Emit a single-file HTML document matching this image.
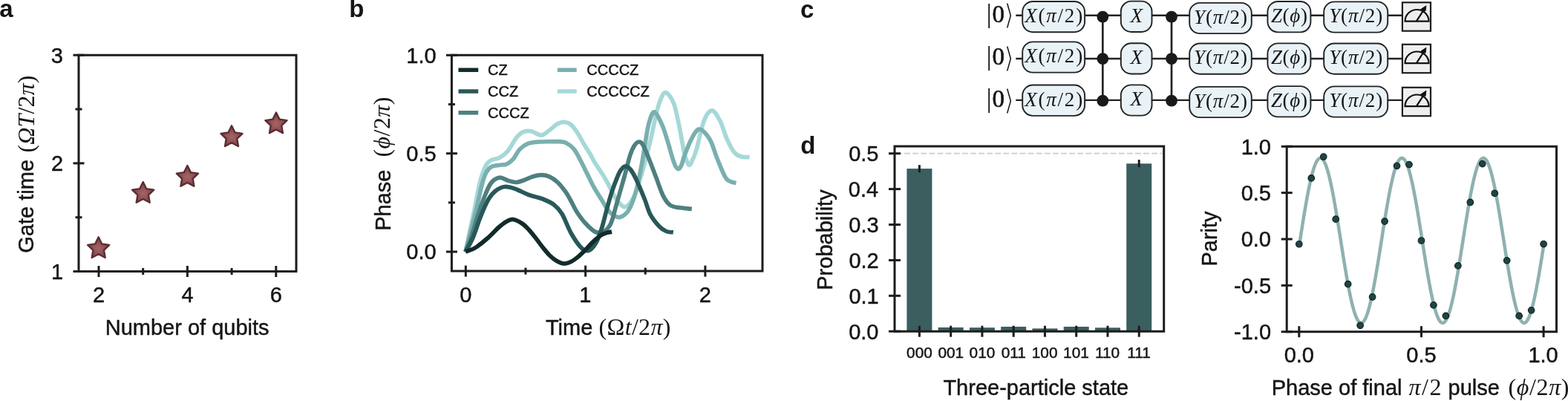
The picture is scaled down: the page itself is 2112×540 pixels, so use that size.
<!DOCTYPE html>
<html><head><meta charset="utf-8"><title>Figure</title>
<style>html,body{margin:0;padding:0;background:#fff;overflow:hidden}svg{display:block}text{fill:#151515}.s{stroke:#151515;stroke-width:0.45px}</style></head>
<body><svg width="2112" height="540" viewBox="0 0 2112 540">
<rect width="2112" height="540" fill="#fff"/>
<text x="-0.79" y="23.4" font-size="33" font-family='"Liberation Sans", Arial, Helvetica, sans-serif' font-weight="bold" >a</text>
<text x="470.36" y="23.4" font-size="33" font-family='"Liberation Sans", Arial, Helvetica, sans-serif' font-weight="bold" >b</text>
<text x="1077.88" y="24" font-size="33" font-family='"Liberation Sans", Arial, Helvetica, sans-serif' font-weight="bold" >c</text>
<text x="1078.28" y="207.2" font-size="33" font-family='"Liberation Sans", Arial, Helvetica, sans-serif' font-weight="bold" >d</text>
<path d="M106,74.2 H399 V365.5 H106 Z" fill="none" stroke="#1c1c1c" stroke-width="3" stroke-linejoin="miter"/>
<line x1="98.5" y1="365.5" x2="113.5" y2="365.5" stroke="#1c1c1c" stroke-width="3" stroke-linecap="butt" />
<text class="s" x="68.95" y="375.9" font-size="29" font-family='"Liberation Sans", Arial, Helvetica, sans-serif' font-weight="normal" >1</text>
<line x1="98.5" y1="219.85" x2="113.5" y2="219.85" stroke="#1c1c1c" stroke-width="3" stroke-linecap="butt" />
<text class="s" x="68.95" y="230.25" font-size="29" font-family='"Liberation Sans", Arial, Helvetica, sans-serif' font-weight="normal" >2</text>
<line x1="98.5" y1="74.2" x2="113.5" y2="74.2" stroke="#1c1c1c" stroke-width="3" stroke-linecap="butt" />
<text class="s" x="68.81" y="84.6" font-size="29" font-family='"Liberation Sans", Arial, Helvetica, sans-serif' font-weight="normal" >3</text>
<line x1="101.5" y1="292.68" x2="110.5" y2="292.68" stroke="#1c1c1c" stroke-width="3" stroke-linecap="butt" />
<line x1="101.5" y1="147.02" x2="110.5" y2="147.02" stroke="#1c1c1c" stroke-width="3" stroke-linecap="butt" />
<line x1="133" y1="358" x2="133" y2="373" stroke="#1c1c1c" stroke-width="3" stroke-linecap="butt" />
<text class="s" x="124.95" y="407.3" font-size="29" font-family='"Liberation Sans", Arial, Helvetica, sans-serif' font-weight="normal" >2</text>
<line x1="252.4" y1="358" x2="252.4" y2="373" stroke="#1c1c1c" stroke-width="3" stroke-linecap="butt" />
<text class="s" x="244.43" y="407.3" font-size="29" font-family='"Liberation Sans", Arial, Helvetica, sans-serif' font-weight="normal" >4</text>
<line x1="371.8" y1="358" x2="371.8" y2="373" stroke="#1c1c1c" stroke-width="3" stroke-linecap="butt" />
<text class="s" x="363.68" y="407.3" font-size="29" font-family='"Liberation Sans", Arial, Helvetica, sans-serif' font-weight="normal" >6</text>
<line x1="192.7" y1="361" x2="192.7" y2="370" stroke="#1c1c1c" stroke-width="3" stroke-linecap="butt" />
<line x1="312.1" y1="361" x2="312.1" y2="370" stroke="#1c1c1c" stroke-width="3" stroke-linecap="butt" />
<text class="s" x="141.73" y="450.6" font-size="29" font-family='"Liberation Sans", Arial, Helvetica, sans-serif' font-weight="normal" >Number of qubits</text>
<text class="s" transform="translate(45.3,340.65) rotate(-90)" x="0" y="0" font-size="29" font-family='"Liberation Sans", Arial, Helvetica, sans-serif' >Gate time</text>
<text transform="translate(45.5,205.5) rotate(-90)" x="0" y="0" font-size="32" font-family='"Liberation Serif", "DejaVu Serif", serif' text-anchor="start" textLength="104" lengthAdjust="spacing">(<tspan font-style="italic">ΩT</tspan>/2<tspan font-style="italic">π</tspan>)</text>
<defs><radialGradient id="sg" cx="0.5" cy="0.55" r="0.5"><stop offset="0" stop-color="#a66466"/><stop offset="0.6" stop-color="#8f4f54"/><stop offset="1" stop-color="#7a4146"/></radialGradient></defs>
<path d="M132.7,319.3 L137.2,328.41 L147.25,329.87 L139.98,336.96 L141.69,346.98 L132.7,342.25 L123.71,346.98 L125.42,336.96 L118.15,329.87 L128.2,328.41 Z" fill="url(#sg)" stroke="#5a2e33" stroke-width="2.4" stroke-linejoin="round"/>
<path d="M192.7,245.05 L197.2,254.16 L207.25,255.62 L199.98,262.71 L201.69,272.73 L192.7,268 L183.71,272.73 L185.42,262.71 L178.15,255.62 L188.2,254.16 Z" fill="url(#sg)" stroke="#5a2e33" stroke-width="2.4" stroke-linejoin="round"/>
<path d="M252.4,223 L256.9,232.11 L266.95,233.57 L259.68,240.66 L261.39,250.68 L252.4,245.95 L243.41,250.68 L245.12,240.66 L237.85,233.57 L247.9,232.11 Z" fill="url(#sg)" stroke="#5a2e33" stroke-width="2.4" stroke-linejoin="round"/>
<path d="M312,169.3 L316.5,178.41 L326.55,179.87 L319.28,186.96 L320.99,196.98 L312,192.25 L303.01,196.98 L304.72,186.96 L297.45,179.87 L307.5,178.41 Z" fill="url(#sg)" stroke="#5a2e33" stroke-width="2.4" stroke-linejoin="round"/>
<path d="M371.95,151.5 L376.45,160.61 L386.5,162.07 L379.23,169.16 L380.94,179.18 L371.95,174.45 L362.96,179.18 L364.67,169.16 L357.4,162.07 L367.45,160.61 Z" fill="url(#sg)" stroke="#5a2e33" stroke-width="2.4" stroke-linejoin="round"/>
<path d="M608.4,74.3 H1027 V365.1 H608.4 Z" fill="none" stroke="#1c1c1c" stroke-width="3" stroke-linejoin="miter"/>
<line x1="600.9" y1="339" x2="615.9" y2="339" stroke="#1c1c1c" stroke-width="3" stroke-linecap="butt" />
<text class="s" x="547.35" y="349.4" font-size="29" font-family='"Liberation Sans", Arial, Helvetica, sans-serif' font-weight="normal" >0.0</text>
<line x1="600.9" y1="206.65" x2="615.9" y2="206.65" stroke="#1c1c1c" stroke-width="3" stroke-linecap="butt" />
<text class="s" x="547.35" y="217.05" font-size="29" font-family='"Liberation Sans", Arial, Helvetica, sans-serif' font-weight="normal" >0.5</text>
<line x1="600.9" y1="74.3" x2="615.9" y2="74.3" stroke="#1c1c1c" stroke-width="3" stroke-linecap="butt" />
<text class="s" x="547.35" y="84.7" font-size="29" font-family='"Liberation Sans", Arial, Helvetica, sans-serif' font-weight="normal" >1.0</text>
<line x1="603.9" y1="272.82" x2="612.9" y2="272.82" stroke="#1c1c1c" stroke-width="3" stroke-linecap="butt" />
<line x1="603.9" y1="140.48" x2="612.9" y2="140.48" stroke="#1c1c1c" stroke-width="3" stroke-linecap="butt" />
<line x1="627.3" y1="357.6" x2="627.3" y2="372.6" stroke="#1c1c1c" stroke-width="3" stroke-linecap="butt" />
<text class="s" x="619.25" y="407.3" font-size="29" font-family='"Liberation Sans", Arial, Helvetica, sans-serif' font-weight="normal" >0</text>
<line x1="788.6" y1="357.6" x2="788.6" y2="372.6" stroke="#1c1c1c" stroke-width="3" stroke-linecap="butt" />
<text class="s" x="780.19" y="407.3" font-size="29" font-family='"Liberation Sans", Arial, Helvetica, sans-serif' font-weight="normal" >1</text>
<line x1="949.9" y1="357.6" x2="949.9" y2="372.6" stroke="#1c1c1c" stroke-width="3" stroke-linecap="butt" />
<text class="s" x="941.85" y="407.3" font-size="29" font-family='"Liberation Sans", Arial, Helvetica, sans-serif' font-weight="normal" >2</text>
<line x1="707.95" y1="360.6" x2="707.95" y2="369.6" stroke="#1c1c1c" stroke-width="3" stroke-linecap="butt" />
<line x1="869.25" y1="360.6" x2="869.25" y2="369.6" stroke="#1c1c1c" stroke-width="3" stroke-linecap="butt" />
<text class="s" x="734.92" y="450.5" font-size="29" font-family='"Liberation Sans", Arial, Helvetica, sans-serif' font-weight="normal" >Time</text>
<text x="806.5" y="450.5" font-size="32" font-family='"Liberation Serif", "DejaVu Serif", serif' text-anchor="start" textLength="97" lengthAdjust="spacing">(Ω<tspan font-style="italic">t</tspan>/2<tspan font-style="italic">π</tspan>)</text>
<text class="s" transform="translate(526,310.82) rotate(-90)" x="0" y="0" font-size="29" font-family='"Liberation Sans", Arial, Helvetica, sans-serif' >Phase</text>
<text transform="translate(524.5,211.5) rotate(-90)" x="0" y="0" font-size="32" font-family='"Liberation Serif", "DejaVu Serif", serif' text-anchor="start" textLength="81" lengthAdjust="spacing">(<tspan font-style="italic">ϕ</tspan>/2<tspan font-style="italic">π</tspan>)</text>
<path d="M627,339 C627.63,335.83 628.72,329.83 630.8,320 C632.88,310.17 637.42,290 639.5,280 C641.58,270 642.05,266.17 643.3,260 C644.55,253.83 645.63,248.08 647,243 C648.37,237.92 650,233.25 651.5,229.5 C653,225.75 654.25,222.83 656,220.5 C657.75,218.17 659.17,216.88 662,215.5 C664.83,214.12 669.33,214.23 673,212.2 C676.67,210.17 680.25,207.75 684,203.3 C687.75,198.85 692.1,189.75 695.5,185.5 C698.9,181.25 701.07,179.27 704.4,177.8 C707.73,176.33 711.42,175.97 715.5,176.7 C719.58,177.43 724.82,182.4 728.9,182.2 C732.98,182 736.32,178.08 740,175.5 C743.68,172.92 747.67,168.55 751,166.7 C754.33,164.85 757.02,164.22 760,164.4 C762.98,164.58 765.93,165.38 768.9,167.8 C771.87,170.22 774.83,174.47 777.8,178.9 C780.77,183.33 783.75,189.47 786.7,194.4 C789.65,199.33 793.03,204.3 795.5,208.5 C797.97,212.7 798.65,214.97 801.5,219.6 C804.35,224.23 809.62,231.52 812.6,236.3 C815.58,241.08 816.32,242.73 819.4,248.3 C822.48,253.87 827.2,264.67 831.1,269.7 C835,274.73 838.92,279.47 842.8,278.5 C846.68,277.53 851.12,270.32 854.4,263.9 C857.68,257.48 860.18,247.32 862.5,240 C864.82,232.68 865.93,228.88 868.3,220 C870.67,211.12 874.2,197.37 876.7,186.7 C879.2,176.03 881.25,164.45 883.3,156 C885.35,147.55 886.8,141.23 889,136 C891.2,130.77 893.42,124.07 896.5,124.6 C899.58,125.13 904.37,131.27 907.5,139.2 C910.63,147.13 913.03,161.52 915.3,172.2 C917.57,182.88 919.48,195.83 921.1,203.3 C922.72,210.77 923.8,213.8 925,217 C926.2,220.2 927.13,222.5 928.3,222.5 C929.47,222.5 930.38,220.47 932,217 C933.62,213.53 935.28,210.78 938,201.7 C940.72,192.62 944.8,171.3 948.3,162.5 C951.8,153.7 955.43,148.9 959,148.9 C962.57,148.9 966.3,156.02 969.7,162.5 C973.1,168.98 976.15,180.67 979.4,187.8 C982.65,194.93 985.95,201.42 989.2,205.3 C992.45,209.18 995.5,210.07 998.9,211.1 C1002.3,212.13 1007.82,211.43 1009.6,211.5" fill="none" stroke="#a6d8d8" stroke-width="5.7" stroke-linejoin="round" stroke-linecap="butt"/>
<path d="M627,339 C627.83,335.83 629.5,329.83 632,320 C634.5,310.17 639.08,292.08 642,280 C644.92,267.92 647.33,255.5 649.5,247.5 C651.67,239.5 652.92,235.85 655,232 C657.08,228.15 658.95,226.03 662,224.4 C665.05,222.77 669.93,222.75 673.3,222.2 C676.67,221.65 679.23,222.4 682.2,221.1 C685.17,219.8 688.13,217.73 691.1,214.4 C694.07,211.07 696.68,204.62 700,201.1 C703.32,197.58 706.93,194.97 711,193.3 C715.07,191.63 719.57,191.53 724.4,191.1 C729.23,190.67 735.18,190.77 740,190.7 C744.82,190.63 749.6,190.45 753.3,190.7 C757,190.95 758.87,190.47 762.2,192.2 C765.53,193.93 769.97,197.02 773.3,201.1 C776.63,205.18 779.23,211.15 782.2,216.7 C785.17,222.25 788.13,228.48 791.1,234.4 C794.07,240.32 796.73,246.33 800,252.2 C803.27,258.07 807.73,264.73 810.7,269.6 C813.67,274.47 815.37,278.13 817.8,281.4 C820.23,284.67 822.43,287.35 825.3,289.2 C828.17,291.05 831.42,293.53 835,292.5 C838.58,291.47 843.22,288.75 846.8,283 C850.38,277.25 853.6,268.17 856.5,258 C859.4,247.83 862.03,233.33 864.2,222 C866.37,210.67 867.87,199.33 869.5,190 C871.13,180.67 872.05,172.53 874,166 C875.95,159.47 878.22,150.42 881.2,150.8 C884.18,151.18 888.82,161.48 891.9,168.3 C894.98,175.12 897.42,184.42 899.7,191.7 C901.98,198.98 903.88,206.62 905.6,212 C907.32,217.38 908.6,221.42 910,224 C911.4,226.58 912.67,227.83 914,227.5 C915.33,227.17 916.58,225.25 918,222 C919.42,218.75 920.08,214.17 922.5,208 C924.92,201.83 929.17,190.67 932.5,185 C935.83,179.33 938.57,173.53 942.5,174 C946.43,174.47 952.22,181.3 956.1,187.8 C959.98,194.3 962.33,204.53 965.8,213 C969.27,221.47 973.75,233.3 976.9,238.6 C980.05,243.9 982.27,243.5 984.7,244.8 C987.13,246.1 990.37,246.13 991.5,246.4" fill="none" stroke="#7aafaf" stroke-width="5.7" stroke-linejoin="round" stroke-linecap="butt"/>
<path d="M627,339 C628.25,335.83 631.58,328.58 634.5,320 C637.42,311.42 641.17,297.5 644.5,287.5 C647.83,277.5 651.55,267 654.5,260 C657.45,253 659.07,248.97 662.2,245.5 C665.33,242.03 669.6,239.57 673.3,239.2 C677,238.83 680.7,242.25 684.4,243.3 C688.1,244.35 691.78,245.68 695.5,245.5 C699.22,245.32 702.98,243.48 706.7,242.2 C710.42,240.92 714.1,238.9 717.8,237.8 C721.5,236.7 725.2,235.6 728.9,235.6 C732.6,235.6 736.3,236.15 740,237.8 C743.7,239.45 747.4,241.98 751.1,245.5 C754.8,249.02 759.22,254.73 762.2,258.9 C765.18,263.07 766.47,265.98 769,270.5 C771.53,275.02 774.13,280.95 777.4,286 C780.67,291.05 784.47,296.38 788.6,300.8 C792.73,305.22 797.98,310.72 802.2,312.5 C806.42,314.28 810.65,313.08 813.9,311.5 C817.15,309.92 819.77,306.08 821.7,303 C823.63,299.92 823.93,298.08 825.5,293 C827.07,287.92 828.55,281.57 831.1,272.5 C833.65,263.43 837.88,249.12 840.8,238.6 C843.72,228.08 846.32,216.5 848.6,209.4 C850.88,202.3 852.52,199.07 854.5,196 C856.48,192.93 858.58,191.17 860.5,191 C862.42,190.83 863.77,191.28 866,195 C868.23,198.72 870.97,206.03 873.9,213.3 C876.83,220.57 880.37,230.17 883.6,238.6 C886.83,247.03 890.07,257.58 893.3,263.9 C896.53,270.22 899.1,273.85 903,276.5 C906.9,279.15 911.9,278.98 916.7,279.8 C921.5,280.62 929.28,281.13 931.8,281.4" fill="none" stroke="#4f7f7f" stroke-width="5.7" stroke-linejoin="round" stroke-linecap="butt"/>
<path d="M627,339 C628.67,335.83 633.67,327.75 637,320 C640.33,312.25 643.67,300.83 647,292.5 C650.33,284.17 653.67,275.83 657,270 C660.33,264.17 663.25,260.58 667,257.5 C670.75,254.42 675.17,252.08 679.5,251.5 C683.83,250.92 687.48,252.17 693,254 C698.52,255.83 706.25,260.17 712.6,262.5 C718.95,264.83 725.55,265.83 731.1,268 C736.65,270.17 741.58,272.17 745.9,275.5 C750.22,278.83 753.12,281.58 757,288 C760.88,294.42 764.9,306.42 769.2,314 C773.5,321.58 778.92,329.58 782.8,333.5 C786.68,337.42 789.27,338.42 792.5,337.5 C795.73,336.58 799.28,332.75 802.2,328 C805.12,323.25 807.4,317 810,309 C812.6,301 815.53,288.17 817.8,280 C820.07,271.83 821.7,265.93 823.6,260 C825.5,254.07 827.3,249.23 829.2,244.4 C831.1,239.57 832.9,234.4 835,231 C837.1,227.6 839.47,224.5 841.8,224 C844.13,223.5 846.57,225.23 849,228 C851.43,230.77 853.22,233.97 856.4,240.6 C859.58,247.23 864.82,259.7 868.1,267.8 C871.38,275.9 872.82,283.05 876.1,289.2 C879.38,295.35 884.23,300.98 887.8,304.7 C891.37,308.42 894.33,310.13 897.5,311.5 C900.67,312.87 905.25,312.67 906.8,312.9" fill="none" stroke="#295858" stroke-width="5.7" stroke-linejoin="round" stroke-linecap="butt"/>
<path d="M627,339 C628.17,338.58 631.5,337.58 634,336.5 C636.5,335.42 638.17,335.17 642,332.5 C645.83,329.83 652,324.92 657,320.5 C662,316.08 667.83,309.67 672,306 C676.17,302.33 678.83,300.25 682,298.5 C685.17,296.75 687.45,295.08 691,295.5 C694.55,295.92 699.8,298.75 703.3,301 C706.8,303.25 708.9,305.67 712,309 C715.1,312.33 718.73,317 721.9,321 C725.07,325 727.92,329.17 731,333 C734.08,336.83 737.23,340.92 740.4,344 C743.57,347.08 746.83,349.67 750,351.5 C753.17,353.33 756.23,354.83 759.4,355 C762.57,355.17 765.75,354.07 769,352.5 C772.25,350.93 775.73,348.18 778.9,345.6 C782.07,343.02 784.77,340.25 788,337 C791.23,333.75 794.63,329.53 798.3,326.1 C801.97,322.67 806.88,318.5 810,316.4 C813.12,314.3 814.67,314.22 817,313.5 C819.33,312.78 822.83,312.33 824,312.1" fill="none" stroke="#122b2b" stroke-width="5.7" stroke-linejoin="round" stroke-linecap="butt"/>
<line x1="617.5" y1="94.2" x2="644.2" y2="94.2" stroke="#122b2b" stroke-width="5.5" stroke-linecap="butt" />
<text class="s" x="657.1" y="101.1" font-size="20" font-family='"Liberation Sans", Arial, Helvetica, sans-serif' font-weight="normal" >CZ</text>
<line x1="617.5" y1="123" x2="644.2" y2="123" stroke="#295858" stroke-width="5.5" stroke-linecap="butt" />
<text class="s" x="657.1" y="129.9" font-size="20" font-family='"Liberation Sans", Arial, Helvetica, sans-serif' font-weight="normal" >CCZ</text>
<line x1="617.5" y1="151.8" x2="644.2" y2="151.8" stroke="#4f7f7f" stroke-width="5.5" stroke-linecap="butt" />
<text class="s" x="657.1" y="158.7" font-size="20" font-family='"Liberation Sans", Arial, Helvetica, sans-serif' font-weight="normal" >CCCZ</text>
<line x1="750.8" y1="94.2" x2="776.7" y2="94.2" stroke="#7aafaf" stroke-width="5.5" stroke-linecap="butt" />
<text class="s" x="790.3" y="101.1" font-size="20" font-family='"Liberation Sans", Arial, Helvetica, sans-serif' font-weight="normal" >CCCCZ</text>
<line x1="750.8" y1="123" x2="776.7" y2="123" stroke="#a6d8d8" stroke-width="5.5" stroke-linecap="butt" />
<text class="s" x="790.3" y="129.9" font-size="20" font-family='"Liberation Sans", Arial, Helvetica, sans-serif' font-weight="normal" >CCCCCZ</text>
<line x1="1368.3" y1="20.8" x2="1888" y2="20.8" stroke="#222222" stroke-width="2.4" stroke-linecap="butt" />
<line x1="1368.3" y1="79" x2="1888" y2="79" stroke="#222222" stroke-width="2.4" stroke-linecap="butt" />
<line x1="1368.3" y1="134.85" x2="1888" y2="134.85" stroke="#222222" stroke-width="2.4" stroke-linecap="butt" />
<line x1="1485.3" y1="22.6" x2="1485.3" y2="135.6" stroke="#222222" stroke-width="2.7" stroke-linecap="butt" />
<circle cx="1485.3" cy="22.6" r="7.9" fill="#1a1a1a"/>
<circle cx="1485.3" cy="79.1" r="7.9" fill="#1a1a1a"/>
<circle cx="1485.3" cy="135.6" r="7.9" fill="#1a1a1a"/>
<line x1="1578" y1="22.6" x2="1578" y2="135.6" stroke="#222222" stroke-width="2.7" stroke-linecap="butt" />
<circle cx="1578" cy="22.6" r="7.9" fill="#1a1a1a"/>
<circle cx="1578" cy="79.1" r="7.9" fill="#1a1a1a"/>
<circle cx="1578" cy="135.6" r="7.9" fill="#1a1a1a"/>
<rect x="1377.2" y="1.95" width="83.9" height="41.3" rx="14" ry="14" fill="#e9f2f6" stroke="#222" stroke-width="1.9"/>
<text x="1419.15" y="29.9" font-size="27" text-anchor="middle" font-family='"Liberation Serif", "DejaVu Serif", serif' textLength="78" lengthAdjust="spacing"><tspan font-style="italic">X</tspan>(<tspan font-style="italic">π</tspan>/2)</text>
<rect x="1509.8" y="1.65" width="41.7" height="41.3" rx="14" ry="14" fill="#e9f2f6" stroke="#222" stroke-width="1.9"/>
<text x="1530.65" y="29.6" font-size="27" text-anchor="middle" font-family='"Liberation Serif", "DejaVu Serif", serif'><tspan font-style="italic">X</tspan></text>
<rect x="1602.2" y="3.85" width="83.6" height="41.3" rx="14" ry="14" fill="#e9f2f6" stroke="#222" stroke-width="1.9"/>
<text x="1644" y="31.8" font-size="27" text-anchor="middle" font-family='"Liberation Serif", "DejaVu Serif", serif' textLength="72" lengthAdjust="spacing"><tspan font-style="italic">Y</tspan>(<tspan font-style="italic">π</tspan>/2)</text>
<rect x="1707.4" y="2.05" width="58" height="41.3" rx="14" ry="14" fill="#e9f2f6" stroke="#222" stroke-width="1.9"/>
<text x="1736.4" y="30" font-size="27" text-anchor="middle" font-family='"Liberation Serif", "DejaVu Serif", serif' textLength="49" lengthAdjust="spacing"><tspan font-style="italic">Z</tspan>(<tspan font-style="italic">ϕ</tspan>)</text>
<rect x="1783.2" y="2.35" width="86" height="41.3" rx="14" ry="14" fill="#e9f2f6" stroke="#222" stroke-width="1.9"/>
<text x="1826.2" y="30.3" font-size="27" text-anchor="middle" font-family='"Liberation Serif", "DejaVu Serif", serif' textLength="72" lengthAdjust="spacing"><tspan font-style="italic">Y</tspan>(<tspan font-style="italic">π</tspan>/2)</text>
<text x="1328.5" y="29.6" font-size="36.6" font-family='"Liberation Serif", "DejaVu Serif", serif'>|</text>
<text x="1336.6" y="29.8" font-size="33" font-family='"Liberation Serif", "DejaVu Serif", serif' stroke="#151515" stroke-width="0.6">0</text>
<text transform="translate(1352.2,33.4) scale(1.3,1.42)" font-size="27" font-family='"DejaVu Sans", sans-serif' stroke="#fff" stroke-width="0.9">⟩</text>
<rect x="1888.9" y="3.3" width="38.1" height="38.4" fill="#eeeeee" stroke="#1e1e1e" stroke-width="2.2"/>
<path d="M1892.5,28.6 A16,15.6 0 0 1 1924.5,28.6 Z" fill="none" stroke="#111" stroke-width="2.2"/>
<line x1="1907.8" y1="28.6" x2="1918.5" y2="12.1" stroke="#111" stroke-width="2.2"/>
<path d="M1920.9,7.8 L1913.6,12.6 L1919.9,15 Z" fill="#111" stroke="#111" stroke-width="1" stroke-linejoin="round"/>
<rect x="1377.2" y="56.35" width="83.9" height="41.3" rx="14" ry="14" fill="#e9f2f6" stroke="#222" stroke-width="1.9"/>
<text x="1419.15" y="84.3" font-size="27" text-anchor="middle" font-family='"Liberation Serif", "DejaVu Serif", serif' textLength="78" lengthAdjust="spacing"><tspan font-style="italic">X</tspan>(<tspan font-style="italic">π</tspan>/2)</text>
<rect x="1509.8" y="58.25" width="41.7" height="41.3" rx="14" ry="14" fill="#e9f2f6" stroke="#222" stroke-width="1.9"/>
<text x="1530.65" y="86.2" font-size="27" text-anchor="middle" font-family='"Liberation Serif", "DejaVu Serif", serif'><tspan font-style="italic">X</tspan></text>
<rect x="1602.2" y="58.45" width="83.6" height="41.3" rx="14" ry="14" fill="#e9f2f6" stroke="#222" stroke-width="1.9"/>
<text x="1644" y="86.4" font-size="27" text-anchor="middle" font-family='"Liberation Serif", "DejaVu Serif", serif' textLength="72" lengthAdjust="spacing"><tspan font-style="italic">Y</tspan>(<tspan font-style="italic">π</tspan>/2)</text>
<rect x="1707.4" y="58.35" width="58" height="41.3" rx="14" ry="14" fill="#e9f2f6" stroke="#222" stroke-width="1.9"/>
<text x="1736.4" y="86.3" font-size="27" text-anchor="middle" font-family='"Liberation Serif", "DejaVu Serif", serif' textLength="49" lengthAdjust="spacing"><tspan font-style="italic">Z</tspan>(<tspan font-style="italic">ϕ</tspan>)</text>
<rect x="1783.2" y="58.45" width="86" height="41.3" rx="14" ry="14" fill="#e9f2f6" stroke="#222" stroke-width="1.9"/>
<text x="1826.2" y="86.4" font-size="27" text-anchor="middle" font-family='"Liberation Serif", "DejaVu Serif", serif' textLength="72" lengthAdjust="spacing"><tspan font-style="italic">Y</tspan>(<tspan font-style="italic">π</tspan>/2)</text>
<text x="1328.5" y="86.7" font-size="36.6" font-family='"Liberation Serif", "DejaVu Serif", serif'>|</text>
<text x="1336.6" y="86.9" font-size="33" font-family='"Liberation Serif", "DejaVu Serif", serif' stroke="#151515" stroke-width="0.6">0</text>
<text transform="translate(1352.2,90.5) scale(1.3,1.42)" font-size="27" font-family='"DejaVu Sans", sans-serif' stroke="#fff" stroke-width="0.9">⟩</text>
<rect x="1888.9" y="59.8" width="38.1" height="38.4" fill="#eeeeee" stroke="#1e1e1e" stroke-width="2.2"/>
<path d="M1892.5,85.1 A16,15.6 0 0 1 1924.5,85.1 Z" fill="none" stroke="#111" stroke-width="2.2"/>
<line x1="1907.8" y1="85.1" x2="1918.5" y2="68.6" stroke="#111" stroke-width="2.2"/>
<path d="M1920.9,64.3 L1913.6,69.1 L1919.9,71.5 Z" fill="#111" stroke="#111" stroke-width="1" stroke-linejoin="round"/>
<rect x="1377.2" y="114.55" width="83.9" height="41.3" rx="14" ry="14" fill="#e9f2f6" stroke="#222" stroke-width="1.9"/>
<text x="1419.15" y="142.5" font-size="27" text-anchor="middle" font-family='"Liberation Serif", "DejaVu Serif", serif' textLength="78" lengthAdjust="spacing"><tspan font-style="italic">X</tspan>(<tspan font-style="italic">π</tspan>/2)</text>
<rect x="1509.8" y="114.35" width="41.7" height="41.3" rx="14" ry="14" fill="#e9f2f6" stroke="#222" stroke-width="1.9"/>
<text x="1530.65" y="142.3" font-size="27" text-anchor="middle" font-family='"Liberation Serif", "DejaVu Serif", serif'><tspan font-style="italic">X</tspan></text>
<rect x="1602.2" y="116.85" width="83.6" height="41.3" rx="14" ry="14" fill="#e9f2f6" stroke="#222" stroke-width="1.9"/>
<text x="1644" y="144.8" font-size="27" text-anchor="middle" font-family='"Liberation Serif", "DejaVu Serif", serif' textLength="72" lengthAdjust="spacing"><tspan font-style="italic">Y</tspan>(<tspan font-style="italic">π</tspan>/2)</text>
<rect x="1707.4" y="116.1" width="58" height="41.3" rx="14" ry="14" fill="#e9f2f6" stroke="#222" stroke-width="1.9"/>
<text x="1736.4" y="144.05" font-size="27" text-anchor="middle" font-family='"Liberation Serif", "DejaVu Serif", serif' textLength="49" lengthAdjust="spacing"><tspan font-style="italic">Z</tspan>(<tspan font-style="italic">ϕ</tspan>)</text>
<rect x="1783.2" y="116.35" width="86" height="41.3" rx="14" ry="14" fill="#e9f2f6" stroke="#222" stroke-width="1.9"/>
<text x="1826.2" y="144.3" font-size="27" text-anchor="middle" font-family='"Liberation Serif", "DejaVu Serif", serif' textLength="72" lengthAdjust="spacing"><tspan font-style="italic">Y</tspan>(<tspan font-style="italic">π</tspan>/2)</text>
<text x="1328.5" y="143.8" font-size="36.6" font-family='"Liberation Serif", "DejaVu Serif", serif'>|</text>
<text x="1336.6" y="144" font-size="33" font-family='"Liberation Serif", "DejaVu Serif", serif' stroke="#151515" stroke-width="0.6">0</text>
<text transform="translate(1352.2,147.6) scale(1.3,1.42)" font-size="27" font-family='"DejaVu Sans", sans-serif' stroke="#fff" stroke-width="0.9">⟩</text>
<rect x="1888.9" y="117.8" width="38.1" height="38.4" fill="#eeeeee" stroke="#1e1e1e" stroke-width="2.2"/>
<path d="M1892.5,143.1 A16,15.6 0 0 1 1924.5,143.1 Z" fill="none" stroke="#111" stroke-width="2.2"/>
<line x1="1907.8" y1="143.1" x2="1918.5" y2="126.6" stroke="#111" stroke-width="2.2"/>
<path d="M1920.9,122.3 L1913.6,127.1 L1919.9,129.5 Z" fill="#111" stroke="#111" stroke-width="1" stroke-linejoin="round"/>
<line x1="1207" y1="206.7" x2="1565.7" y2="206.7" stroke="#cccccc" stroke-width="1.8" stroke-dasharray="8 3.1"/>
<line x1="1197" y1="446.2" x2="1213" y2="446.2" stroke="#1c1c1c" stroke-width="3" stroke-linecap="butt" />
<text class="s" x="1143.15" y="456.6" font-size="29" font-family='"Liberation Sans", Arial, Helvetica, sans-serif' font-weight="normal" >0.0</text>
<line x1="1197" y1="398.3" x2="1213" y2="398.3" stroke="#1c1c1c" stroke-width="3" stroke-linecap="butt" />
<text class="s" x="1143.44" y="408.7" font-size="29" font-family='"Liberation Sans", Arial, Helvetica, sans-serif' font-weight="normal" >0.1</text>
<line x1="1197" y1="350.4" x2="1213" y2="350.4" stroke="#1c1c1c" stroke-width="3" stroke-linecap="butt" />
<text class="s" x="1143.44" y="360.8" font-size="29" font-family='"Liberation Sans", Arial, Helvetica, sans-serif' font-weight="normal" >0.2</text>
<line x1="1197" y1="302.5" x2="1213" y2="302.5" stroke="#1c1c1c" stroke-width="3" stroke-linecap="butt" />
<text class="s" x="1143.3" y="312.9" font-size="29" font-family='"Liberation Sans", Arial, Helvetica, sans-serif' font-weight="normal" >0.3</text>
<line x1="1197" y1="254.6" x2="1213" y2="254.6" stroke="#1c1c1c" stroke-width="3" stroke-linecap="butt" />
<text class="s" x="1142.86" y="265" font-size="29" font-family='"Liberation Sans", Arial, Helvetica, sans-serif' font-weight="normal" >0.4</text>
<line x1="1197" y1="206.7" x2="1213" y2="206.7" stroke="#1c1c1c" stroke-width="3" stroke-linecap="butt" />
<text class="s" x="1143.15" y="217.1" font-size="29" font-family='"Liberation Sans", Arial, Helvetica, sans-serif' font-weight="normal" >0.5</text>
<rect x="1221.4" y="227.11" width="34" height="219.09" fill="#3b5e5f"/>
<rect x="1263.66" y="440.93" width="34" height="5.27" fill="#3b5e5f"/>
<rect x="1305.92" y="441.17" width="34" height="5.03" fill="#3b5e5f"/>
<rect x="1348.18" y="439.97" width="34" height="6.23" fill="#3b5e5f"/>
<rect x="1390.44" y="442.37" width="34" height="3.83" fill="#3b5e5f"/>
<rect x="1432.7" y="439.97" width="34" height="6.23" fill="#3b5e5f"/>
<rect x="1474.96" y="441.31" width="34" height="4.89" fill="#3b5e5f"/>
<rect x="1517.22" y="220.3" width="34" height="225.9" fill="#3b5e5f"/>
<line x1="1238.4" y1="438.7" x2="1238.4" y2="453.7" stroke="#1c1c1c" stroke-width="3" stroke-linecap="butt" />
<text class="s" x="1221.08" y="482.4" font-size="20.8" font-family='"Liberation Sans", Arial, Helvetica, sans-serif' font-weight="normal" >000</text>
<line x1="1280.66" y1="438.7" x2="1280.66" y2="453.7" stroke="#1c1c1c" stroke-width="3" stroke-linecap="butt" />
<text class="s" x="1263.45" y="482.4" font-size="20.8" font-family='"Liberation Sans", Arial, Helvetica, sans-serif' font-weight="normal" >001</text>
<line x1="1322.92" y1="438.7" x2="1322.92" y2="453.7" stroke="#1c1c1c" stroke-width="3" stroke-linecap="butt" />
<text class="s" x="1305.6" y="482.4" font-size="20.8" font-family='"Liberation Sans", Arial, Helvetica, sans-serif' font-weight="normal" >010</text>
<line x1="1365.18" y1="438.7" x2="1365.18" y2="453.7" stroke="#1c1c1c" stroke-width="3" stroke-linecap="butt" />
<text class="s" x="1348.7" y="482.4" font-size="20.8" font-family='"Liberation Sans", Arial, Helvetica, sans-serif' font-weight="normal" >011</text>
<line x1="1407.44" y1="438.7" x2="1407.44" y2="453.7" stroke="#1c1c1c" stroke-width="3" stroke-linecap="butt" />
<text class="s" x="1389.76" y="482.4" font-size="20.8" font-family='"Liberation Sans", Arial, Helvetica, sans-serif' font-weight="normal" >100</text>
<line x1="1449.7" y1="438.7" x2="1449.7" y2="453.7" stroke="#1c1c1c" stroke-width="3" stroke-linecap="butt" />
<text class="s" x="1432.12" y="482.4" font-size="20.8" font-family='"Liberation Sans", Arial, Helvetica, sans-serif' font-weight="normal" >101</text>
<line x1="1491.96" y1="438.7" x2="1491.96" y2="453.7" stroke="#1c1c1c" stroke-width="3" stroke-linecap="butt" />
<text class="s" x="1475.01" y="482.4" font-size="20.8" font-family='"Liberation Sans", Arial, Helvetica, sans-serif' font-weight="normal" >110</text>
<line x1="1534.22" y1="438.7" x2="1534.22" y2="453.7" stroke="#1c1c1c" stroke-width="3" stroke-linecap="butt" />
<text class="s" x="1518.15" y="482.4" font-size="20.8" font-family='"Liberation Sans", Arial, Helvetica, sans-serif' font-weight="normal" >111</text>
<line x1="1238.4" y1="222.2" x2="1238.4" y2="232.2" stroke="#1c1c1c" stroke-width="3" stroke-linecap="butt" />
<line x1="1534.2" y1="215.1" x2="1534.2" y2="225.1" stroke="#1c1c1c" stroke-width="3" stroke-linecap="butt" />
<path d="M1205,197 H1567.7 V446.2 H1205 Z" fill="none" stroke="#1c1c1c" stroke-width="3" stroke-linejoin="miter"/>
<text class="s" x="1270.42" y="532.1" font-size="29" font-family='"Liberation Sans", Arial, Helvetica, sans-serif' font-weight="normal" >Three-particle state</text>
<text class="s" transform="translate(1121,390.72) rotate(-90)" x="0" y="0" font-size="29" font-family='"Liberation Sans", Arial, Helvetica, sans-serif' >Probability</text>
<line x1="1725.7" y1="446.75" x2="1740.7" y2="446.75" stroke="#1c1c1c" stroke-width="3" stroke-linecap="butt" />
<text class="s" x="1662.08" y="457.15" font-size="29" font-family='"Liberation Sans", Arial, Helvetica, sans-serif' font-weight="normal" >-1.0</text>
<line x1="1725.7" y1="384.38" x2="1740.7" y2="384.38" stroke="#1c1c1c" stroke-width="3" stroke-linecap="butt" />
<text class="s" x="1662.08" y="394.77" font-size="29" font-family='"Liberation Sans", Arial, Helvetica, sans-serif' font-weight="normal" >-0.5</text>
<line x1="1725.7" y1="322" x2="1740.7" y2="322" stroke="#1c1c1c" stroke-width="3" stroke-linecap="butt" />
<text class="s" x="1671.65" y="332.4" font-size="29" font-family='"Liberation Sans", Arial, Helvetica, sans-serif' font-weight="normal" >0.0</text>
<line x1="1725.7" y1="259.62" x2="1740.7" y2="259.62" stroke="#1c1c1c" stroke-width="3" stroke-linecap="butt" />
<text class="s" x="1671.65" y="270.02" font-size="29" font-family='"Liberation Sans", Arial, Helvetica, sans-serif' font-weight="normal" >0.5</text>
<line x1="1725.7" y1="197.25" x2="1740.7" y2="197.25" stroke="#1c1c1c" stroke-width="3" stroke-linecap="butt" />
<text class="s" x="1671.65" y="207.65" font-size="29" font-family='"Liberation Sans", Arial, Helvetica, sans-serif' font-weight="normal" >1.0</text>
<line x1="1749.8" y1="439.2" x2="1749.8" y2="454.2" stroke="#1c1c1c" stroke-width="3" stroke-linecap="butt" />
<text class="s" x="1729.64" y="488.2" font-size="29" font-family='"Liberation Sans", Arial, Helvetica, sans-serif' font-weight="normal" >0.0</text>
<line x1="1914.45" y1="439.2" x2="1914.45" y2="454.2" stroke="#1c1c1c" stroke-width="3" stroke-linecap="butt" />
<text class="s" x="1894.3" y="488.2" font-size="29" font-family='"Liberation Sans", Arial, Helvetica, sans-serif' font-weight="normal" >0.5</text>
<line x1="2079.1" y1="439.2" x2="2079.1" y2="454.2" stroke="#1c1c1c" stroke-width="3" stroke-linecap="butt" />
<text class="s" x="2058.44" y="488.2" font-size="29" font-family='"Liberation Sans", Arial, Helvetica, sans-serif' font-weight="normal" >1.0</text>
<path d="M1749.8,331.54 L1750.62,326.31 L1751.45,321.08 L1752.27,315.86 L1753.09,310.65 L1753.92,305.47 L1754.74,300.33 L1755.56,295.25 L1756.39,290.23 L1757.21,285.28 L1758.03,280.42 L1758.86,275.65 L1759.68,271 L1760.5,266.46 L1761.33,262.04 L1762.15,257.77 L1762.97,253.64 L1763.8,249.67 L1764.62,245.86 L1765.44,242.22 L1766.26,238.77 L1767.09,235.5 L1767.91,232.44 L1768.73,229.57 L1769.56,226.92 L1770.38,224.47 L1771.2,222.25 L1772.03,220.26 L1772.85,218.5 L1773.67,216.97 L1774.5,215.67 L1775.32,214.62 L1776.14,213.81 L1776.97,213.24 L1777.79,212.92 L1778.61,212.85 L1779.44,213.02 L1780.26,213.44 L1781.08,214.1 L1781.91,215.01 L1782.73,216.16 L1783.55,217.55 L1784.38,219.17 L1785.2,221.03 L1786.02,223.12 L1786.85,225.42 L1787.67,227.95 L1788.49,230.69 L1789.32,233.64 L1790.14,236.79 L1790.96,240.13 L1791.79,243.66 L1792.61,247.36 L1793.43,251.24 L1794.26,255.27 L1795.08,259.46 L1795.9,263.79 L1796.73,268.26 L1797.55,272.85 L1798.37,277.55 L1799.19,282.35 L1800.02,287.25 L1800.84,292.23 L1801.66,297.27 L1802.49,302.38 L1803.31,307.54 L1804.13,312.73 L1804.96,317.94 L1805.78,323.17 L1806.6,328.4 L1807.43,333.63 L1808.25,338.82 L1809.07,343.99 L1809.9,349.11 L1810.72,354.18 L1811.54,359.17 L1812.37,364.09 L1813.19,368.92 L1814.01,373.65 L1814.84,378.27 L1815.66,382.77 L1816.48,387.14 L1817.31,391.37 L1818.13,395.45 L1818.95,399.36 L1819.78,403.12 L1820.6,406.69 L1821.42,410.08 L1822.25,413.28 L1823.07,416.28 L1823.89,419.08 L1824.72,421.67 L1825.54,424.03 L1826.36,426.18 L1827.19,428.1 L1828.01,429.78 L1828.83,431.24 L1829.66,432.45 L1830.48,433.42 L1831.3,434.15 L1832.12,434.63 L1832.95,434.87 L1833.77,434.86 L1834.59,434.61 L1835.42,434.11 L1836.24,433.36 L1837.06,432.37 L1837.89,431.15 L1838.71,429.68 L1839.53,427.98 L1840.36,426.04 L1841.18,423.88 L1842,421.5 L1842.83,418.9 L1843.65,416.09 L1844.47,413.08 L1845.3,409.86 L1846.12,406.46 L1846.94,402.87 L1847.77,399.11 L1848.59,395.18 L1849.41,391.09 L1850.24,386.85 L1851.06,382.48 L1851.88,377.97 L1852.71,373.34 L1853.53,368.6 L1854.35,363.77 L1855.18,358.84 L1856,353.84 L1856.82,348.77 L1857.65,343.65 L1858.47,338.48 L1859.29,333.28 L1860.12,328.06 L1860.94,322.82 L1861.76,317.6 L1862.59,312.38 L1863.41,307.19 L1864.23,302.04 L1865.05,296.94 L1865.88,291.89 L1866.7,286.92 L1867.52,282.03 L1868.35,277.23 L1869.17,272.54 L1869.99,267.96 L1870.82,263.5 L1871.64,259.18 L1872.46,255 L1873.29,250.97 L1874.11,247.11 L1874.93,243.41 L1875.76,239.9 L1876.58,236.57 L1877.4,233.44 L1878.23,230.5 L1879.05,227.78 L1879.87,225.26 L1880.7,222.97 L1881.52,220.9 L1882.34,219.06 L1883.17,217.45 L1883.99,216.08 L1884.81,214.94 L1885.64,214.05 L1886.46,213.4 L1887.28,213 L1888.11,212.85 L1888.93,212.94 L1889.75,213.27 L1890.58,213.86 L1891.4,214.68 L1892.22,215.75 L1893.05,217.06 L1893.87,218.61 L1894.69,220.39 L1895.52,222.4 L1896.34,224.63 L1897.16,227.09 L1897.98,229.76 L1898.81,232.63 L1899.63,235.72 L1900.45,238.99 L1901.28,242.46 L1902.1,246.11 L1902.92,249.93 L1903.75,253.91 L1904.57,258.05 L1905.39,262.33 L1906.22,266.75 L1907.04,271.3 L1907.86,275.97 L1908.69,280.74 L1909.51,285.61 L1910.33,290.56 L1911.16,295.58 L1911.98,300.67 L1912.8,305.81 L1913.63,310.99 L1914.45,316.2 L1915.27,321.43 L1916.1,326.66 L1916.92,331.89 L1917.74,337.09 L1918.57,342.27 L1919.39,347.41 L1920.21,352.49 L1921.04,357.52 L1921.86,362.46 L1922.68,367.32 L1923.51,372.09 L1924.33,376.75 L1925.15,381.29 L1925.98,385.7 L1926.8,389.98 L1927.62,394.1 L1928.45,398.08 L1929.27,401.88 L1930.09,405.52 L1930.91,408.97 L1931.74,412.24 L1932.56,415.31 L1933.38,418.17 L1934.21,420.83 L1935.03,423.27 L1935.85,425.49 L1936.68,427.48 L1937.5,429.25 L1938.32,430.78 L1939.15,432.07 L1939.97,433.12 L1940.79,433.93 L1941.62,434.5 L1942.44,434.82 L1943.26,434.89 L1944.09,434.72 L1944.91,434.3 L1945.73,433.64 L1946.56,432.73 L1947.38,431.58 L1948.2,430.19 L1949.03,428.57 L1949.85,426.71 L1950.67,424.63 L1951.5,422.32 L1952.32,419.79 L1953.14,417.05 L1953.97,414.1 L1954.79,410.95 L1955.61,407.61 L1956.44,404.09 L1957.26,400.38 L1958.08,396.51 L1958.91,392.47 L1959.73,388.28 L1960.55,383.95 L1961.38,379.49 L1962.2,374.9 L1963.02,370.2 L1963.85,365.39 L1964.67,360.49 L1965.49,355.52 L1966.31,350.47 L1967.14,345.36 L1967.96,340.21 L1968.78,335.01 L1969.61,329.8 L1970.43,324.57 L1971.25,319.34 L1972.08,314.12 L1972.9,308.92 L1973.72,303.75 L1974.55,298.63 L1975.37,293.57 L1976.19,288.57 L1977.02,283.65 L1977.84,278.82 L1978.66,274.09 L1979.49,269.47 L1980.31,264.97 L1981.13,260.6 L1981.96,256.37 L1982.78,252.3 L1983.6,248.38 L1984.43,244.63 L1985.25,241.05 L1986.07,237.66 L1986.9,234.46 L1987.72,231.46 L1988.54,228.66 L1989.37,226.08 L1990.19,223.71 L1991.01,221.56 L1991.84,219.65 L1992.66,217.96 L1993.48,216.51 L1994.31,215.29 L1995.13,214.32 L1995.95,213.59 L1996.78,213.11 L1997.6,212.87 L1998.42,212.88 L1999.24,213.13 L2000.07,213.63 L2000.89,214.38 L2001.71,215.37 L2002.54,216.6 L2003.36,218.06 L2004.18,219.77 L2005.01,221.7 L2005.83,223.86 L2006.65,226.24 L2007.48,228.84 L2008.3,231.65 L2009.12,234.67 L2009.95,237.88 L2010.77,241.28 L2011.59,244.87 L2012.42,248.63 L2013.24,252.56 L2014.06,256.65 L2014.89,260.89 L2015.71,265.27 L2016.53,269.77 L2017.36,274.4 L2018.18,279.14 L2019,283.97 L2019.83,288.9 L2020.65,293.9 L2021.47,298.97 L2022.3,304.1 L2023.12,309.26 L2023.94,314.46 L2024.77,319.69 L2025.59,324.92 L2026.41,330.15 L2027.24,335.36 L2028.06,340.55 L2028.88,345.7 L2029.7,350.81 L2030.53,355.85 L2031.35,360.82 L2032.17,365.71 L2033,370.51 L2033.82,375.21 L2034.64,379.79 L2035.47,384.24 L2036.29,388.57 L2037.11,392.74 L2037.94,396.77 L2038.76,400.63 L2039.58,404.33 L2040.41,407.84 L2041.23,411.17 L2042.05,414.31 L2042.88,417.24 L2043.7,419.97 L2044.52,422.48 L2045.35,424.77 L2046.17,426.84 L2046.99,428.68 L2047.82,430.29 L2048.64,431.67 L2049.46,432.8 L2050.29,433.69 L2051.11,434.34 L2051.93,434.74 L2052.76,434.9 L2053.58,434.81 L2054.4,434.47 L2055.23,433.89 L2056.05,433.06 L2056.87,431.99 L2057.7,430.68 L2058.52,429.14 L2059.34,427.36 L2060.17,425.35 L2060.99,423.11 L2061.81,420.66 L2062.63,417.99 L2063.46,415.11 L2064.28,412.03 L2065.1,408.75 L2065.93,405.28 L2066.75,401.64 L2067.57,397.82 L2068.4,393.83 L2069.22,389.69 L2070.04,385.41 L2070.87,380.99 L2071.69,376.44 L2072.51,371.77 L2073.34,367 L2074.16,362.14 L2074.98,357.18 L2075.81,352.16 L2076.63,347.07 L2077.45,341.93 L2078.28,336.75 L2079.1,331.54" fill="none" stroke="#8fb1af" stroke-width="4.5" stroke-linejoin="round"/>
<circle cx="1749.8" cy="328.74" r="4.3" fill="#1f4444" stroke="#0d1d1d" stroke-width="1.1"/>
<circle cx="1766.26" cy="239.91" r="4.3" fill="#1f4444" stroke="#0d1d1d" stroke-width="1.1"/>
<circle cx="1782.73" cy="211.1" r="4.3" fill="#1f4444" stroke="#0d1d1d" stroke-width="1.1"/>
<circle cx="1799.19" cy="295.18" r="4.3" fill="#1f4444" stroke="#0d1d1d" stroke-width="1.1"/>
<circle cx="1815.66" cy="382.63" r="4.3" fill="#1f4444" stroke="#0d1d1d" stroke-width="1.1"/>
<circle cx="1832.12" cy="438.27" r="4.3" fill="#1f4444" stroke="#0d1d1d" stroke-width="1.1"/>
<circle cx="1848.59" cy="399.97" r="4.3" fill="#1f4444" stroke="#0d1d1d" stroke-width="1.1"/>
<circle cx="1865.06" cy="298.05" r="4.3" fill="#1f4444" stroke="#0d1d1d" stroke-width="1.1"/>
<circle cx="1881.52" cy="223.32" r="4.3" fill="#1f4444" stroke="#0d1d1d" stroke-width="1.1"/>
<circle cx="1897.98" cy="221.58" r="4.3" fill="#1f4444" stroke="#0d1d1d" stroke-width="1.1"/>
<circle cx="1914.45" cy="324" r="4.3" fill="#1f4444" stroke="#0d1d1d" stroke-width="1.1"/>
<circle cx="1930.91" cy="410.82" r="4.3" fill="#1f4444" stroke="#0d1d1d" stroke-width="1.1"/>
<circle cx="1947.38" cy="425.42" r="4.3" fill="#1f4444" stroke="#0d1d1d" stroke-width="1.1"/>
<circle cx="1963.85" cy="357.93" r="4.3" fill="#1f4444" stroke="#0d1d1d" stroke-width="1.1"/>
<circle cx="1980.31" cy="272.47" r="4.3" fill="#1f4444" stroke="#0d1d1d" stroke-width="1.1"/>
<circle cx="1996.78" cy="220.58" r="4.3" fill="#1f4444" stroke="#0d1d1d" stroke-width="1.1"/>
<circle cx="2013.24" cy="260.25" r="4.3" fill="#1f4444" stroke="#0d1d1d" stroke-width="1.1"/>
<circle cx="2029.7" cy="350.82" r="4.3" fill="#1f4444" stroke="#0d1d1d" stroke-width="1.1"/>
<circle cx="2046.17" cy="425.42" r="4.3" fill="#1f4444" stroke="#0d1d1d" stroke-width="1.1"/>
<circle cx="2062.64" cy="417.81" r="4.3" fill="#1f4444" stroke="#0d1d1d" stroke-width="1.1"/>
<circle cx="2079.1" cy="328.61" r="4.3" fill="#1f4444" stroke="#0d1d1d" stroke-width="1.1"/>
<path d="M1733.2,197.2 H2096.5 V446.7 H1733.2 Z" fill="none" stroke="#1c1c1c" stroke-width="3" stroke-linejoin="miter"/>
<text class="s" x="1712.78" y="532" font-size="29" font-family='"Liberation Sans", Arial, Helvetica, sans-serif' font-weight="normal" >Phase of final</text>
<text x="1897.5" y="532" font-size="32" font-family='"Liberation Serif", "DejaVu Serif", serif' text-anchor="start" textLength="44" lengthAdjust="spacing"><tspan font-style="italic">π</tspan>/2</text>
<text class="s" x="1950.62" y="532" font-size="29" font-family='"Liberation Sans", Arial, Helvetica, sans-serif' font-weight="normal" >pulse</text>
<text x="2031.5" y="532" font-size="32" font-family='"Liberation Serif", "DejaVu Serif", serif' text-anchor="start" textLength="82" lengthAdjust="spacing">(<tspan font-style="italic">ϕ</tspan>/2<tspan font-style="italic">π</tspan>)</text>
<text class="s" transform="translate(1639,358.52) rotate(-90)" x="0" y="0" font-size="29" font-family='"Liberation Sans", Arial, Helvetica, sans-serif' >Parity</text>
</svg></body></html>
